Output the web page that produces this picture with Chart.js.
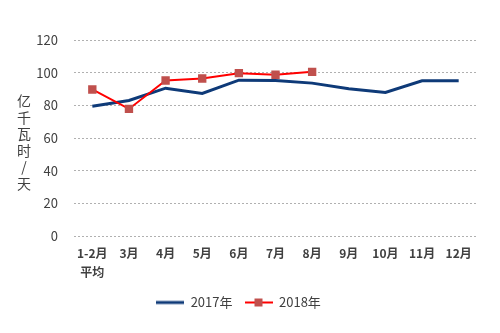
<!DOCTYPE html>
<html>
<head>
<meta charset="utf-8">
<script src="https://cdn.jsdelivr.net/npm/chart.js@4"></script>
<style>
  body { margin: 0; background: #fff; }
  .chart__body { position: relative; width: 500px; height: 333px; }
  .y-title {
    position: absolute; left: 16px; top: 92px; width: 16px;
    font: 14px "Noto Sans CJK SC", sans-serif; color: #404040;
    line-height: 16.5px; text-align: center;
  }
</style>
</head>
<body>
<div class="chart__body">
  <canvas id="myChart" width="500" height="333"></canvas>
  <div class="y-title">亿<br>千<br>瓦<br>时<br>/<br>天</div>
</div>
<script>
// Данные
const months = [["1-2月", "平均"], "3月", "4月", "5月", "6月", "7月", "8月", "9月", "10月", "11月", "12月"];
const values2017 = [79.5, 83, 90.5, 87.3, 95.4, 95.2, 93.6, 90.1, 87.9, 95, 95];
const values2018 = [89.7, 77.8, 95.2, 96.4, 99.7, 98.7, 100.5];
const yTicks = [0, 20, 40, 60, 80, 100, 120];

const font = { family: "'Noto Sans CJK SC', sans-serif", size: 12 };

// значки легенды
function legendIcon(color, marker) {
  const c = document.createElement("canvas");
  c.width = 28; c.height = 10;
  const ctx = c.getContext("2d");
  ctx.strokeStyle = color;
  ctx.lineWidth = marker ? 2 : 3;
  ctx.beginPath();
  ctx.moveTo(0, 5); ctx.lineTo(28, 5);
  ctx.stroke();
  if (marker) {
    ctx.fillStyle = "#c0504d";
    ctx.fillRect(10, 1, 8, 8);
  }
  return c;
}
const icon2017 = legendIcon("#0e3a78", false);
const icon2018 = legendIcon("#ff0000", true);

const data = {
  labels: months,
  datasets: [
    {
      label: "2017年",
      data: values2017,
      borderColor: "#0e3a78",
      backgroundColor: "#0e3a78",
      borderWidth: 3,
      pointRadius: 0,
      tension: 0,
      order: 2,
    },
    {
      label: "2018年",
      data: values2018,
      borderColor: "#ff0000",
      backgroundColor: "#c0504d",
      borderWidth: 2,
      pointStyle: "rect",
      pointRadius: 4.5,
      pointBackgroundColor: "#c0504d",
      pointBorderColor: "#c0504d",
      tension: 0,
      order: 1,
    },
  ],
};

const config = {
  type: "line",
  data,
  options: {
    responsive: false,
    animation: false,
    layout: { padding: { top: 40, right: 23, left: 0, bottom: 14 } },
    scales: {
      x: {
        offset: true,
        grid: { display: false },
        border: { display: false },
        ticks: { color: "#404040", font: { ...font, weight: "bold", lineHeight: 1.6 }, maxRotation: 0, autoSkip: false, padding: 0 },
        afterFit: (scale) => { scale.height = 48; },
      },
      y: {
        min: 0,
        max: 120,
        afterBuildTicks: (scale) => { scale.ticks = yTicks.map((v) => ({ value: v })); },
        grid: { color: "#b0b0b0", drawTicks: false, lineWidth: 1 },
        border: { display: false, dash: [2, 2] },
        ticks: { color: "#404040", font: { ...font, size: 13 }, padding: 16 },
        afterFit: (scale) => { scale.width = 74; },
      },
    },
    plugins: {
      legend: {
        position: "bottom",
        labels: {
          usePointStyle: true,
          pointStyleWidth: 28,
          color: "#404040",
          font: { ...font, size: 13 },
          padding: 12,
          generateLabels: (chart) =>
            chart.data.datasets.map((ds, i) => ({
              text: ds.label,
              pointStyle: i === 0 ? icon2017 : icon2018,
              datasetIndex: i,
              fontColor: "#404040",
              lineWidth: 0,
              strokeStyle: "transparent",
              fillStyle: "transparent",
            })),
        },
      },
      tooltip: { enabled: false },
    },
  },
};

const myChart = new Chart(document.getElementById("myChart"), config);
</script>
</body>
</html>
